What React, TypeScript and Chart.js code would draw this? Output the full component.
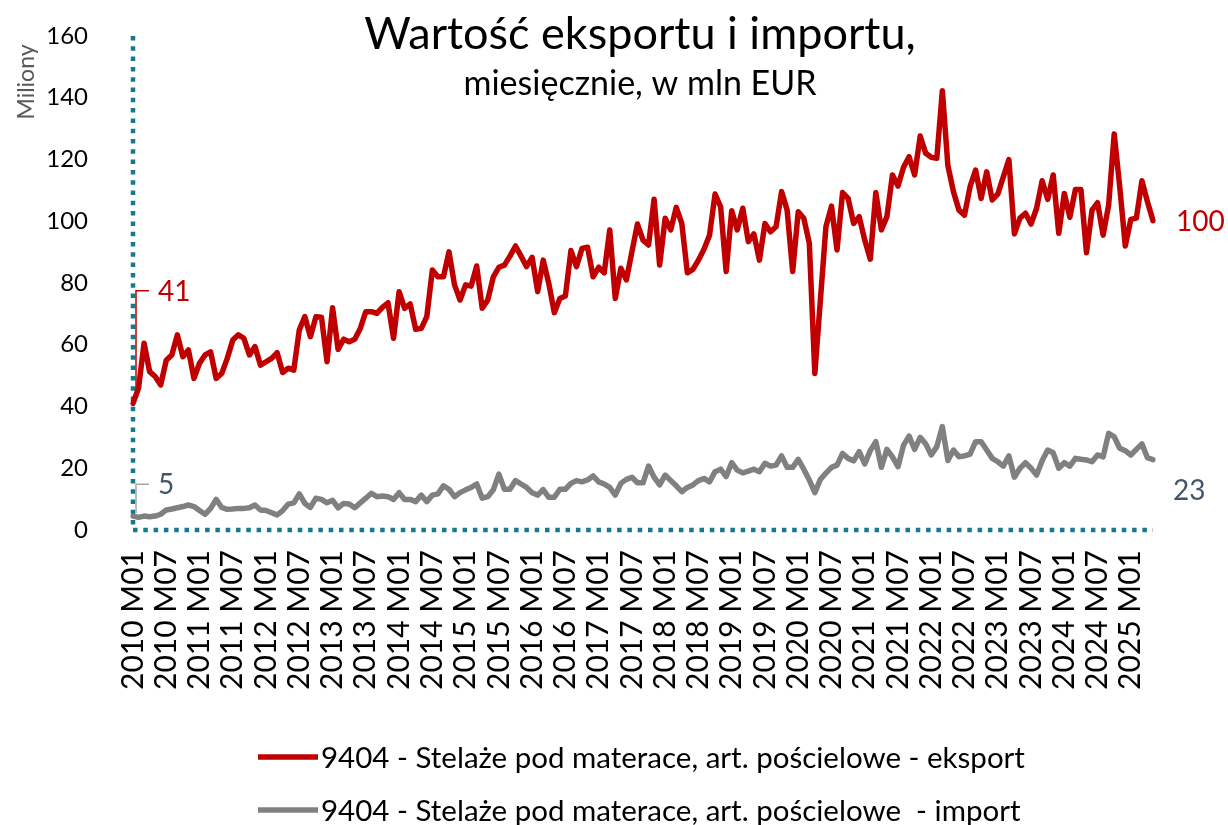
import React, { useEffect, useRef } from 'react';
import { Chart, registerables } from 'chart.js';

Chart.register(...registerables);

const FONT = 'Lato, "Noto Sans", sans-serif';

const titleText = 'Wartość eksportu i importu,';
const subtitleText = 'miesięcznie, w mln EUR';
const yAxisTitle = 'Miliony';
const exportLabel = '9404 - Stelaże pod materace, art. pościelowe - eksport';
const importLabel = '9404 - Stelaże pod materace, art. pościelowe  - import';

const years = [2010, 2011, 2012, 2013, 2014, 2015, 2016, 2017, 2018, 2019, 2020, 2021, 2022, 2023, 2024, 2025];
const monthCodes = ['M01', 'M02', 'M03', 'M04', 'M05', 'M06', 'M07', 'M08', 'M09', 'M10', 'M11', 'M12'];
const lastMonthCount2025 = 5;

const categories: string[] = [];
years.forEach((y) => {
  const n = y === 2025 ? lastMonthCount2025 : 12;
  for (let m = 0; m < n; m++) categories.push(`${y} ${monthCodes[m]}`);
});

const yTickValues = [0, 20, 40, 60, 80, 100, 120, 140, 160];

const exportValues = [
  41, 46, 60.5, 51.3, 49.7, 47, 55, 56.7, 63.2, 56.1, 58.3, 49.1,
  54, 56.7, 57.7, 49.1, 50.7, 55.6, 61.5, 63.2, 62.1, 56.7, 59.4, 53.4,
  54.5, 55.6, 57.4, 51, 52.4, 51.8, 64.8, 69.1, 62.6, 69.1, 68.9, 54.5,
  72, 58.5, 61.8, 61, 61.8, 65.3, 70.7, 70.7, 70.2, 72.1, 73.6, 62.1,
  77.2, 71.8, 73.2, 65, 65.3, 69.1, 84.2, 82, 82, 90.1, 79.4, 74.5,
  79.4, 79, 85.5, 71.8, 74.5, 82, 85.1, 85.8, 88.7, 92, 88.7, 85.3,
  88.3, 77.2, 87.4, 79.9, 70.4, 75, 75.8, 90.5, 85.3, 91.2, 91.6, 82,
  85.1, 83.3, 97.2, 75, 84.8, 81, 90.1, 99.1, 93.9, 92.3, 107.1, 85.8,
  101, 97.2, 104.5, 99.3, 83.3, 84.4, 87.4, 90.9, 95.5, 108.8, 104.7, 83.7,
  103.4, 97.2, 104.2, 93.4, 95.9, 87.4, 99.3, 96.6, 98.2, 109.6, 103.6, 83.7,
  103.1, 101, 92.9, 50.7, 74.5, 98.2, 104.9, 90.7, 109.3, 107.4, 99.3, 101.5,
  93.9, 87.7, 109.3, 97.2, 101.5, 115, 111.4, 117.5, 120.9, 115, 127.6, 122,
  120.7, 120.4, 142.3, 118, 109.6, 103.6, 102, 111.2, 116.6, 107.4, 116, 106.9,
  108.8, 114.4, 120, 95.9, 101, 102.6, 99.1, 104.2, 113.1, 107.1, 115, 96.1,
  109, 101.3, 110.3, 110.3, 89.8, 103.6, 106, 95.5, 105.3, 128.3, 111.2, 92,
  100.6, 101, 113.1, 106.3, 100.2,
];

const importValues = [
  4.5, 4.1, 4.5, 4.3, 4.5, 5.1, 6.5, 6.8, 7.2, 7.6, 8.1, 7.6,
  6.3, 5.1, 7, 9.9, 7.3, 6.7, 6.8, 7, 7, 7.2, 8.1, 6.5,
  6.3, 5.6, 4.9, 6.3, 8.4, 8.8, 11.7, 8.6, 7.3, 10.3, 9.9, 8.8,
  9.6, 7.2, 8.6, 8.4, 7.2, 8.8, 10.3, 11.9, 10.8, 11, 10.8, 9.9,
  12.1, 9.9, 9.9, 9.2, 11.3, 9.2, 11.3, 11.7, 14.3, 13.2, 10.8, 12.1,
  13, 13.8, 14.9, 10.3, 10.8, 13, 18.1, 13.2, 13.2, 16, 14.9, 13.8,
  12.1, 11.3, 13.1, 10.6, 10.6, 13.2, 13.2, 15.1, 16, 15.6, 16.2, 17.5,
  15.6, 14.9, 13.8, 11.3, 15.1, 16.4, 17.1, 15.3, 15.3, 20.7, 17.1, 14.6,
  17.8, 16, 14.3, 12.4, 13.8, 14.6, 16, 16.7, 15.6, 18.9, 19.7, 17.3,
  21.8, 19.4, 18.5, 19.1, 19.7, 18.9, 21.6, 20.7, 21, 24, 20.3, 20.3,
  22.9, 19.7, 16.2, 12.1, 16.4, 18.4, 20.3, 21, 24.8, 23.2, 22.4, 25.4,
  21.4, 25.7, 28.6, 20.3, 26.1, 23.7, 20.5, 27.5, 30.4, 26.1, 30, 27.9,
  24.3, 27, 33.5, 22.5, 25.9, 23.7, 24, 24.6, 28.6, 28.6, 25.9, 23.2,
  22.1, 20.7, 24, 17.1, 20, 21.8, 20, 17.8, 22.4, 25.9, 25, 20,
  21.8, 20.7, 23.2, 22.9, 22.7, 22.1, 24.3, 23.7, 31.3, 30.2, 26.5, 25.7,
  24.3, 26.1, 27.9, 23.4, 22.8,
];

const EXPORT_COLOR = '#C00000';
const IMPORT_COLOR = '#808080';
const AXIS_COLOR = '#17798E';

const decorPlugin = {
  id: 'decor',
  beforeDatasetsDraw(chart: any) {
    const { ctx, chartArea } = chart;
    ctx.save();
    ctx.strokeStyle = AXIS_COLOR;
    ctx.lineWidth = 4.5;
    ctx.setLineDash([4.5, 5.8]);
    ctx.lineCap = 'butt';
    ctx.beginPath();
    ctx.moveTo(chartArea.left, chartArea.top);
    ctx.lineTo(chartArea.left, chartArea.bottom);
    ctx.stroke();
    ctx.beginPath();
    ctx.moveTo(chartArea.left, chartArea.bottom);
    ctx.lineTo(chartArea.right, chartArea.bottom);
    ctx.stroke();
    ctx.restore();
  },
  afterDraw(chart: any) {
    const { ctx } = chart;
    const xs = chart.scales.x;
    const ys = chart.scales.y;
    const cx = 640;
    ctx.save();
    // title
    ctx.fillStyle = '#000000';
    ctx.textAlign = 'center';
    ctx.textBaseline = 'middle';
    ctx.font = `45px ${FONT}`;
    ctx.fillText(titleText, cx, 34);
    ctx.font = `34px ${FONT}`;
    ctx.fillText(subtitleText, cx, 84);

    // y axis title
    ctx.save();
    ctx.translate(27, 82);
    ctx.rotate(-Math.PI / 2);
    ctx.fillStyle = '#595959';
    ctx.font = `23px ${FONT}`;
    ctx.fillText(yAxisTitle, 0, 0);
    ctx.restore();

    // data labels with leaders
    const x0 = xs.getPixelForValue(0);
    const xl = xs.getPixelForValue(categories.length - 1);
    ctx.lineWidth = 1.5;
    ctx.setLineDash([]);
    const ly1 = ys.getPixelForValue(77.5);
    ctx.strokeStyle = EXPORT_COLOR;
    ctx.beginPath();
    ctx.moveTo(x0 + 3, ys.getPixelForValue(exportValues[0]) - 4);
    ctx.lineTo(x0 + 3, ly1);
    ctx.lineTo(x0 + 16, ly1);
    ctx.stroke();
    const ly2 = ys.getPixelForValue(14.8);
    ctx.strokeStyle = '#A6A6A6';
    ctx.beginPath();
    ctx.moveTo(x0 + 3, ys.getPixelForValue(importValues[0]) - 3);
    ctx.lineTo(x0 + 3, ly2);
    ctx.lineTo(x0 + 16, ly2);
    ctx.stroke();

    ctx.textAlign = 'left';
    ctx.font = `28px ${FONT}`;
    ctx.fillStyle = EXPORT_COLOR;
    ctx.fillText(String(Math.round(exportValues[0])), x0 + 25, ly1 + 1);
    ctx.fillStyle = '#44546A';
    ctx.fillText(String(Math.round(importValues[0])), x0 + 25, ly2 + 1);
    ctx.fillStyle = EXPORT_COLOR;
    ctx.fillText(String(Math.round(exportValues[exportValues.length - 1])), xl + 23, ys.getPixelForValue(exportValues[exportValues.length - 1]) + 1);
    ctx.fillStyle = '#44546A';
    ctx.fillText(String(Math.round(importValues[importValues.length - 1])), xl + 20, ys.getPixelForValue(importValues[importValues.length - 1] - 10.3));

    // legend
    const items = [
      { label: exportLabel, color: EXPORT_COLOR, y: 757 },
      { label: importLabel, color: IMPORT_COLOR, y: 810 },
    ];
    ctx.font = `29.5px ${FONT}`;
    items.forEach((it) => {
      ctx.strokeStyle = it.color;
      ctx.lineWidth = 5.5;
      ctx.lineCap = 'butt';
      ctx.beginPath();
      ctx.moveTo(258, it.y);
      ctx.lineTo(318, it.y);
      ctx.stroke();
      ctx.fillStyle = '#000000';
      ctx.textAlign = 'left';
      ctx.fillText(it.label, 321, it.y + 1);
    });
    ctx.restore();
  },
};

export default function App() {
  const canvasRef = useRef<HTMLCanvasElement | null>(null);

  useEffect(() => {
    const canvas = canvasRef.current;
    if (!canvas) return;
    const chart = new Chart(canvas, {
      type: 'line',
      data: {
        labels: categories,
        datasets: [
          {
            label: exportLabel,
            data: exportValues,
            borderColor: EXPORT_COLOR,
            backgroundColor: EXPORT_COLOR,
            borderWidth: 5.5,
            pointRadius: 0,
            tension: 0,
            borderJoinStyle: 'round',
            borderCapStyle: 'round',
          },
          {
            label: importLabel,
            data: importValues,
            borderColor: IMPORT_COLOR,
            backgroundColor: IMPORT_COLOR,
            borderWidth: 5.5,
            pointRadius: 0,
            tension: 0,
            borderJoinStyle: 'round',
            borderCapStyle: 'round',
          },
        ],
      },
      options: {
        responsive: false,
        animation: false,
        events: [],
        layout: { padding: { left: 0, right: 75, top: 36, bottom: 0 } },
        plugins: {
          legend: { display: false },
          title: { display: false },
          tooltip: { enabled: false },
        },
        scales: {
          x: {
            type: 'category',
            offset: false,
            grid: { display: false },
            border: { display: false },
            ticks: {
              autoSkip: false,
              minRotation: 90,
              maxRotation: 90,
              padding: 12,
              color: '#000000',
              font: { family: FONT, size: 30 },
              callback: (_v: any, i: number) => (i % 6 === 0 ? categories[i] : ''),
            },
            afterFit: (s: any) => {
              s.height = 295;
            },
          },
          y: {
            min: 0,
            max: 160,
            grid: { display: false },
            border: { display: false },
            afterBuildTicks: (s: any) => {
              s.ticks = yTickValues.map((v) => ({ value: v }));
            },
            ticks: {
              padding: 37,
              color: '#000000',
              font: { family: FONT, size: 24 },
            },
            afterFit: (s: any) => {
              s.width = 133;
              s.paddingTop = 0;
              s.paddingBottom = 0;
            },
          },
        },
      },
      plugins: [decorPlugin],
    } as any);
    return () => chart.destroy();
  }, []);

  return (
    <div style={{ position: 'absolute', left: 0, top: 0, width: 1228, height: 825 }}>
      <canvas ref={canvasRef} width={1228} height={825} style={{ width: 1228, height: 825 }} />
    </div>
  );
}
